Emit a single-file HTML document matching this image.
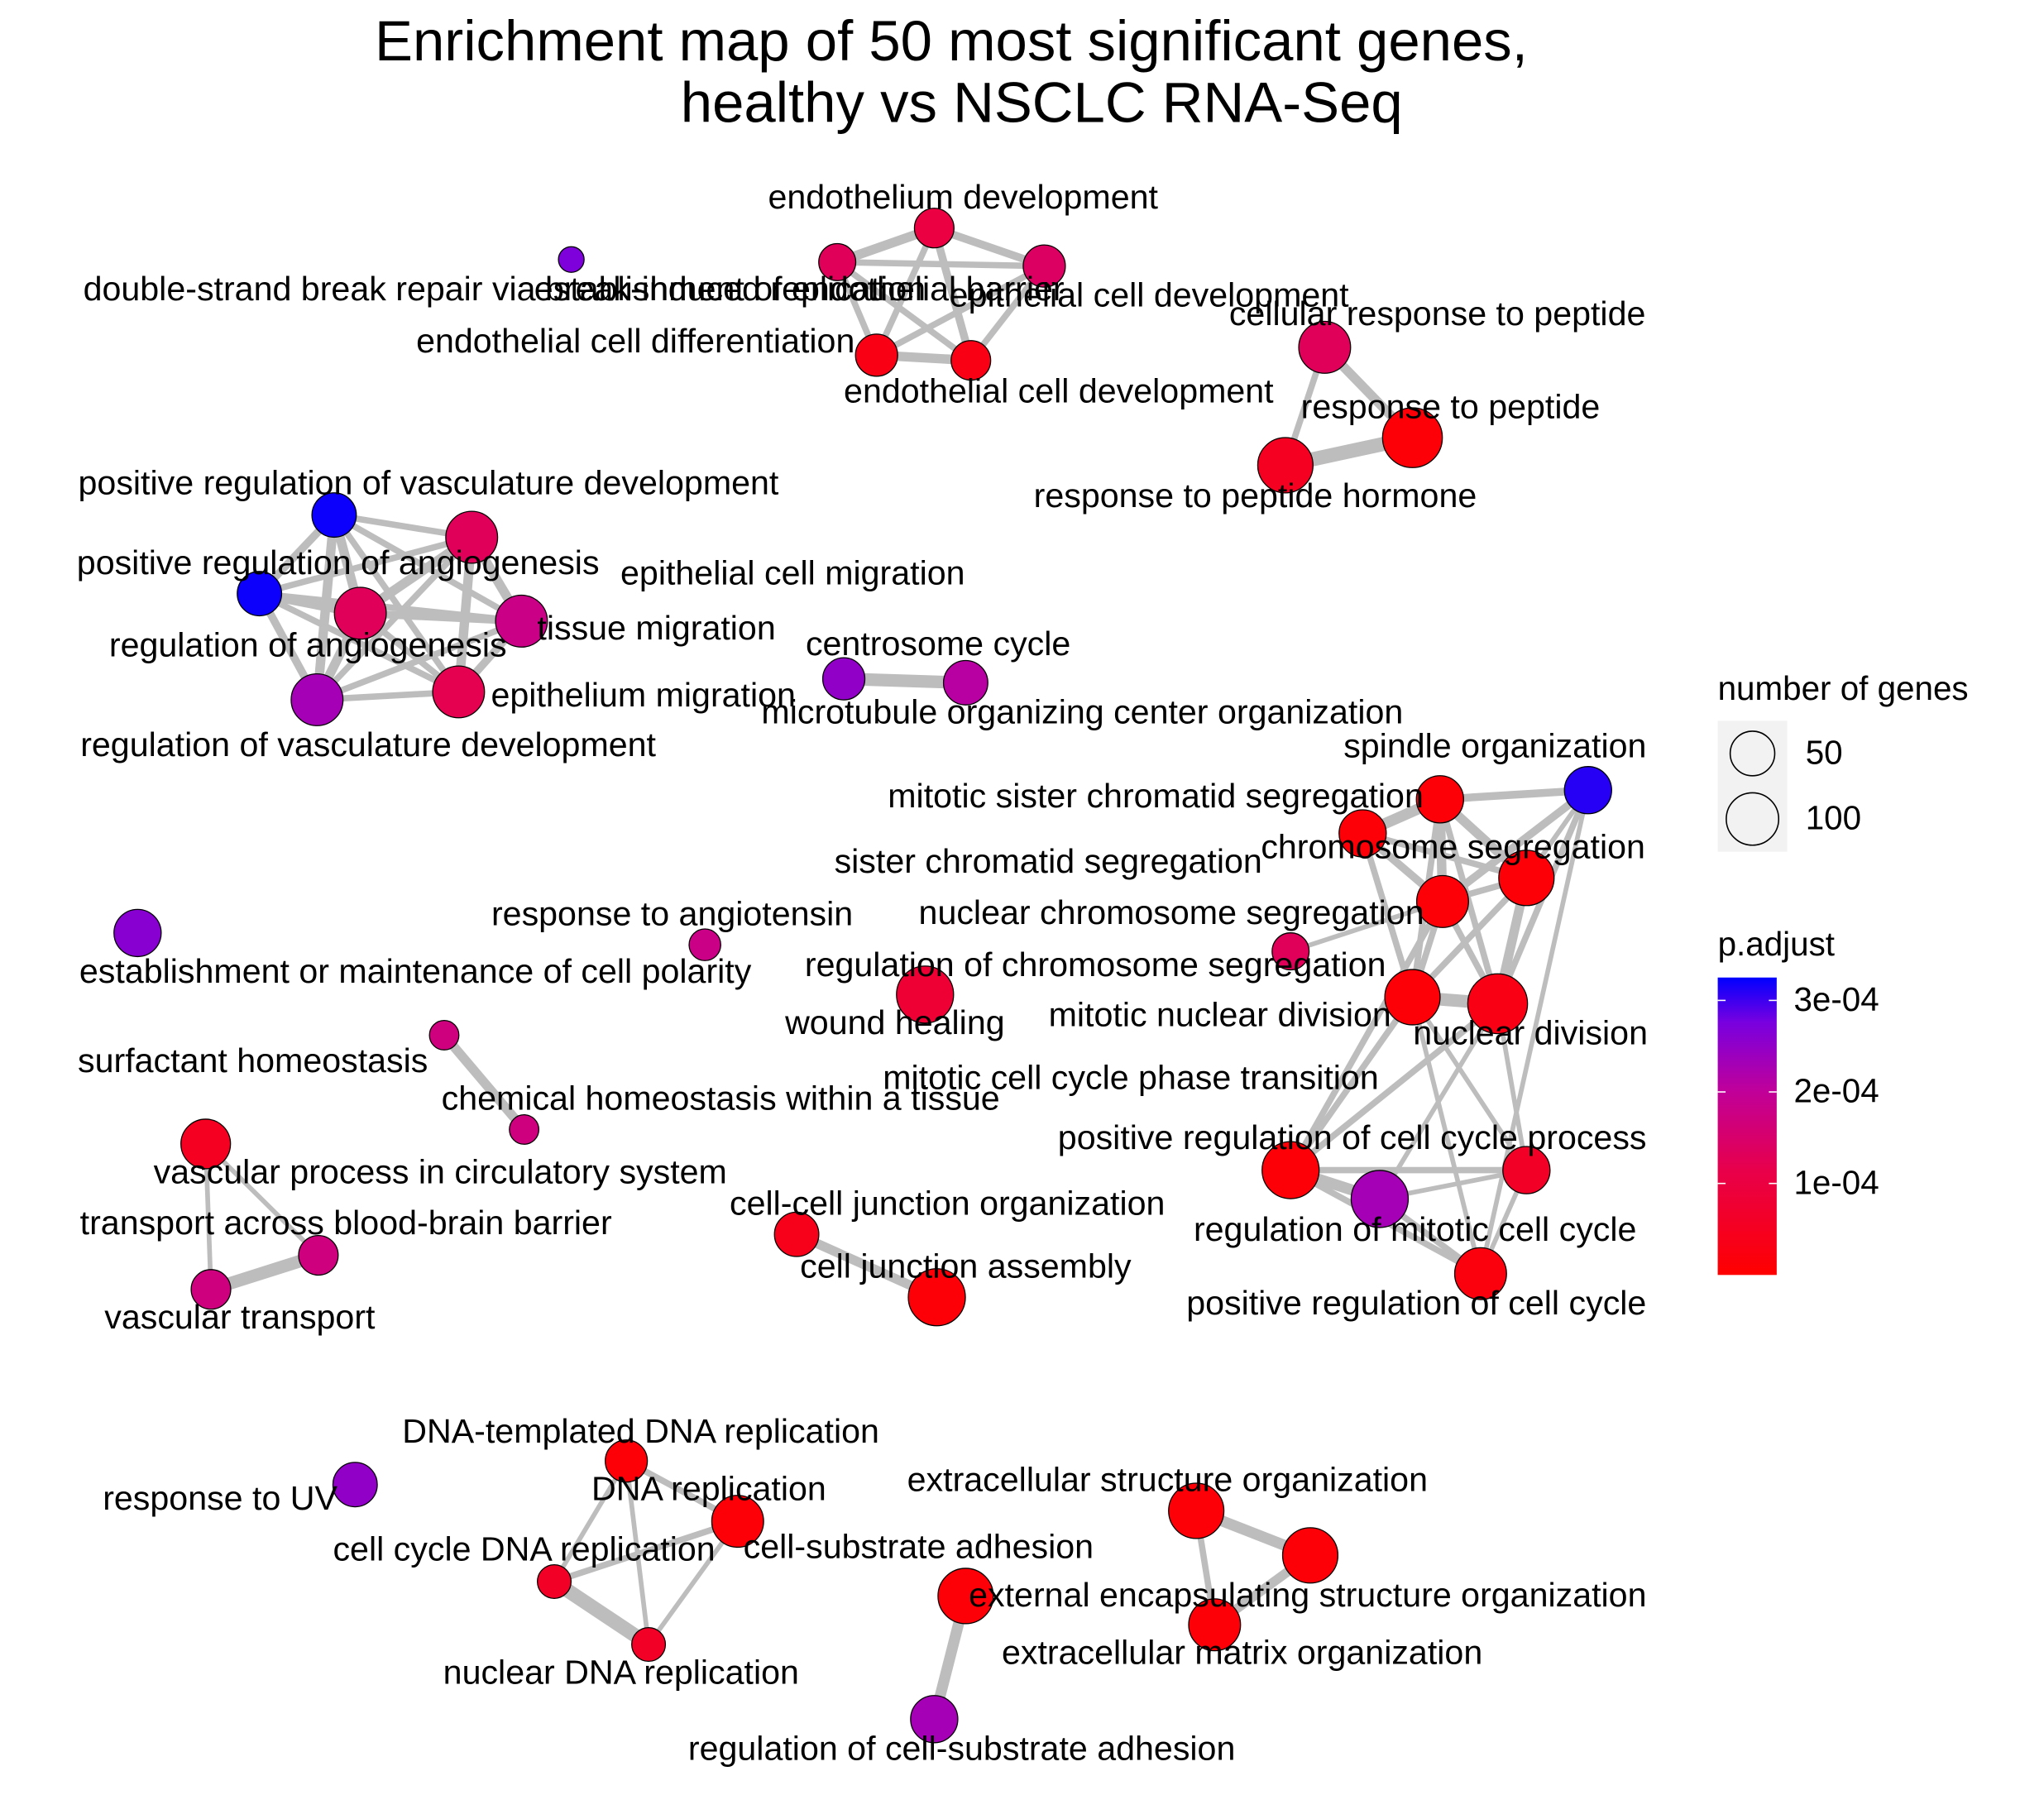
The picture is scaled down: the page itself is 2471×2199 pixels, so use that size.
<!DOCTYPE html>
<html><head><meta charset="utf-8"><style>
html,body{margin:0;padding:0;background:#fff;}
svg text{font-family:"Liberation Sans",Arial,sans-serif;fill:#000;}
</style></head><body>
<svg id="chart" width="2471" height="2194" viewBox="0 0 1560 1385" xmlns="http://www.w3.org/2000/svg">
<rect width="1560" height="1385" fill="#fff"/>
<text x="726" y="46" font-size="43.5" text-anchor="middle">Enrichment map of 50 most significant genes,</text>
<text x="795" y="93" font-size="43.5" text-anchor="middle">healthy vs NSCLC RNA-Seq</text>
<g id="edges"></g>
<g id="nodes"></g>
<g id="labels"></g>
<g>
<text x="1311" y="534" font-size="25.5">number of genes</text>
<rect x="1311" y="550" width="53" height="100" fill="#f2f2f2"/>
<circle cx="1337.5" cy="575" r="17" fill="#f2f2f2" stroke="#000" stroke-width="1"/>
<circle cx="1337.5" cy="625" r="20" fill="#f2f2f2" stroke="#000" stroke-width="1"/>
<text x="1378" y="583" font-size="25.5">50</text>
<text x="1378" y="633" font-size="25.5">100</text>
</g>
<g>
<defs><linearGradient id="pg" x1="0" y1="1" x2="0" y2="0">
<stop offset="0" stop-color="#ff0000"/><stop offset="0.35" stop-color="#e8004a"/><stop offset="0.62" stop-color="#c0009a"/><stop offset="0.85" stop-color="#7800e0"/><stop offset="1" stop-color="#0000ff"/></linearGradient></defs>
<text x="1311" y="729" font-size="25.5">p.adjust</text>
<rect x="1311" y="746" width="45" height="227" fill="url(#pg)"/>
<g id="cticks"></g>
</g>
</svg>
<script>
const nodeNames=["endothelium development","establishment of endothelial barrier","epithelial cell development","endothelial cell differentiation","endothelial cell development","double-strand break repair via break-induced replication","cellular response to peptide","response to peptide","response to peptide hormone","positive regulation of vasculature development","positive regulation of angiogenesis","epithelial cell migration","regulation of angiogenesis","tissue migration","regulation of vasculature development","epithelium migration","centrosome cycle","microtubule organizing center organization","establishment or maintenance of cell polarity","response to angiotensin","wound healing","surfactant homeostasis","chemical homeostasis within a tissue","vascular process in circulatory system","transport across blood-brain barrier","vascular transport","cell-cell junction organization","cell junction assembly","spindle organization","mitotic sister chromatid segregation","sister chromatid segregation","chromosome segregation","nuclear chromosome segregation","regulation of chromosome segregation","mitotic nuclear division","nuclear division","mitotic cell cycle phase transition","regulation of mitotic cell cycle","positive regulation of cell cycle process","positive regulation of cell cycle","response to UV","DNA-templated DNA replication","DNA replication","cell cycle DNA replication","nuclear DNA replication","cell-substrate adhesion","regulation of cell-substrate adhesion","extracellular structure organization","external encapsulating structure organization","extracellular matrix organization"];
const nodeX=[713,639,797,669,741,436,1011,1078,981,255,198,360,275,398,242,350,644,737,105,538,706,339,400,157,243,161,608,715,1212,1099,1040,1165,1101,985,1078,1143,985,1053,1165,1130,271,478,563,423,495,737,713,913,1000,927];
const nodeY=[174,200,203,271,275,198,265,334,355,393,453,410,468,474,534,528,518,521,712,721,759,790,862,873,958,984,942,990,603,610,636,670,688,726,761,766,893,915,893,972,1133,1115,1161,1207,1255,1218,1312,1153,1187,1240];
const geneCount=[27,18,38,38,27,0,96,163,123,49,49,96,96,96,96,96,38,49,65,5,138,2,2,80,27,27,49,138,65,65,65,123,96,18,123,163,138,138,65,96,49,38,96,9,9,123,65,123,123,96];
const pAdjust=[1.0e-4,1.3e-4,1.4e-4,0.3e-4,0.3e-4,2.7e-4,1.3e-4,0.1e-4,0.5e-4,3.2e-4,3.2e-4,1.3e-4,1.3e-4,1.8e-4,2.3e-4,1.2e-4,2.5e-4,2.1e-4,2.6e-4,1.8e-4,0.8e-4,1.7e-4,1.7e-4,0.5e-4,1.7e-4,1.7e-4,0.4e-4,0.1e-4,3.1e-4,0.1e-4,0.1e-4,0.1e-4,0.1e-4,1.3e-4,0.1e-4,0.3e-4,0.1e-4,2.3e-4,0.6e-4,0.2e-4,2.5e-4,0.1e-4,0.1e-4,0.6e-4,0.6e-4,0.1e-4,2.3e-4,0.1e-4,0.1e-4,0.1e-4];
const labelX=[735,610,877,485,808,385,1097,1107,958,327,258,605,235,501,281,491,716,826,317,513,683,193,550,336,264,183,723,737,1141,882,800,1109,894,836,931,1168,863,1080,1032,1081,168,489,541,400,474,701,734,891,998,948];
const labelY=[162,232,237,272,310,232,251,322,390,380,441,449,504,491,580,542,503,555,753,709,792,821,850,906,945,1017,930,978,581,619,669,658,708,748,786,800,834,950,880,1006,1155,1104,1148,1194,1288,1192,1346,1141,1229,1273];
const edgeFrom=[0,0,0,0,1,1,1,2,2,3,6,6,7,9,9,9,9,9,9,10,10,10,10,10,11,11,11,11,12,12,12,13,13,14,16,21,23,23,24,26,28,28,28,28,29,29,29,29,29,30,30,30,31,31,31,31,32,32,32,33,34,34,34,36,36,36,37,37,38,35,35,34,41,41,41,42,42,43,45,47,47,48,36,37,39];
const edgeTo=[1,2,3,4,2,3,4,3,4,4,7,8,8,10,11,12,13,14,15,11,12,13,14,15,12,13,14,15,13,14,15,14,15,15,17,22,24,25,25,27,29,31,32,35,30,31,32,34,35,31,32,34,32,34,35,28,34,35,36,32,35,36,38,37,38,39,38,39,39,36,38,39,42,43,44,43,44,44,46,48,49,49,32,35,28];
const edgeW=[6,5,4,5,4,4,4,4,4,6,6,4,9,5,4,6,4,6,4,4,6,4,5,4,6,6,4,6,5,6,4,4,5,4,8,6,3,3,8,6,5,3,5,4,7,6,6,4,4,4,5,4,4,4,6,3,4,4,4,3,8,4,3,7,4,4,3,4,3,4,3,3,4,3,3,4,3,9,7,7,4,6,3,3,3];
const colorTicks=[3e-4,2e-4,1e-4];
const colorTickLabels=["3e-04","2e-04","1e-04"];

const NS="http://www.w3.org/2000/svg";
const pMax=3.25e-4, barTop=746, barBot=973;
function yColor(p){return barBot-(p/pMax)*(barBot-barTop);}
function rSize(n){return 9.8+1.02*Math.sqrt(n);}
function pColor(p){
  const stops=[[0,[255,0,0]],[0.35,[232,0,74]],[0.62,[192,0,154]],[0.85,[120,0,224]],[1,[0,0,255]]];
  let t=Math.max(0,Math.min(1,p/pMax));
  for(let i=1;i<stops.length;i++){if(t<=stops[i][0]){const a=stops[i-1],b=stops[i];const f=(t-a[0])/(b[0]-a[0]);
    const c=a[1].map((v,k)=>Math.round(v+(b[1][k]-v)*f));return `rgb(${c[0]},${c[1]},${c[2]})`;}}
  return "rgb(0,0,255)";
}
const eg=document.getElementById('edges');
for(let i=0;i<edgeFrom.length;i++){
  const l=document.createElementNS(NS,'line');
  l.setAttribute('x1',nodeX[edgeFrom[i]]);l.setAttribute('y1',nodeY[edgeFrom[i]]);
  l.setAttribute('x2',nodeX[edgeTo[i]]);l.setAttribute('y2',nodeY[edgeTo[i]]);
  l.setAttribute('stroke','#bdbdbd');l.setAttribute('stroke-width',edgeW[i]*1.2);
  
  
  eg.appendChild(l);
}
const ng=document.getElementById('nodes'), lg=document.getElementById('labels');
for(let i=0;i<nodeNames.length;i++){
  const c=document.createElementNS(NS,'circle');
  c.setAttribute('cx',nodeX[i]);c.setAttribute('cy',nodeY[i]);c.setAttribute('r',rSize(geneCount[i]));
  c.setAttribute('fill',pColor(pAdjust[i]));c.setAttribute('stroke','#000');c.setAttribute('stroke-width','0.8');
  
  
  ng.appendChild(c);
  const t=document.createElementNS(NS,'text');
  t.setAttribute('x',labelX[i]);t.setAttribute('y',labelY[i]-3);t.setAttribute('font-size','26');t.setAttribute('text-anchor','middle');
  t.textContent=nodeNames[i];
  
  
  lg.appendChild(t);
}
const ct=document.getElementById('cticks');
for(let i=0;i<colorTicks.length;i++){
  const y=yColor(colorTicks[i]);
  for(const x of [1311,1350]){const l=document.createElementNS(NS,'line');
    l.setAttribute('x1',x);l.setAttribute('x2',x+6);l.setAttribute('y1',y);l.setAttribute('y2',y);l.setAttribute('stroke','#fff');
    
    
    ct.appendChild(l);}
  const t=document.createElementNS(NS,'text');
  t.setAttribute('x',1369);t.setAttribute('y',y+8);t.setAttribute('font-size','25.5');t.textContent=colorTickLabels[i];
  
  
  ct.appendChild(t);
}
</script>
</body></html>
